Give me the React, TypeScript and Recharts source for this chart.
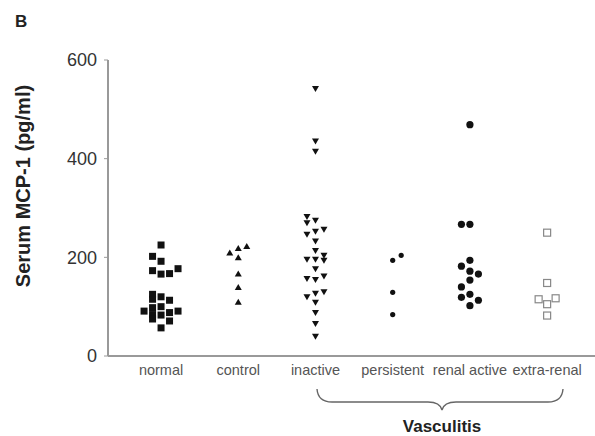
import React from "react";
import { ScatterChart, Scatter, XAxis, YAxis, Customized } from "recharts";

// group names along the x axis
const categories = ["normal", "control", "inactive", "persistent", "renal active", "extra-renal"];
const yTicks = [0, 200, 400, 600];

// [value pg/ml, lane] – lane is the dot column inside the group
const normal: [number, number][] = [
  [225, 0], [202, -1], [192, 0], [177, 2], [173, -1], [167, 1], [166, 0],
  [125, -1], [120, 0], [115, -1], [113, 1], [100, 0], [98, -1], [91, -2],
  [91, 2], [88, 1], [84, -1], [83, 0], [75, -1], [71, 1], [57, 0],
];
const control: [number, number][] = [
  [222, 1], [218, 0], [209, -1], [199, 0], [166, 0], [139, 0], [109, 0],
];
const inactive: [number, number][] = [
  [542, 0], [436, 0], [415, 0], [283, -1], [275, 0], [270, -1], [257, 1],
  [253, 0], [247, -1], [233, 0], [214, 0], [204, 1], [196, -1], [196, 0],
  [194, 1], [177, 0], [162, 1], [157, -1], [155, 0], [130, 1], [127, 0],
  [120, -1], [109, 0], [88, 0], [66, 0], [40, 0],
];
const persistent: [number, number][] = [[204, 1], [194, 0], [129, 0], [84, 0]];
const renalActive: [number, number][] = [
  [469, 0], [267, -1], [267, 0], [194, 0], [182, -1], [172, 0], [166, 1],
  [154, 0], [140, -1], [125, 0], [119, -1], [113, 1], [102, 0],
];
const extraRenal: [number, number][] = [
  [250, 0], [148, 0], [117, 1], [115, -1], [105, 0], [82, 0],
];

const LANE = 0.11;
const FONT = "'Liberation Sans', Arial, Helvetica, sans-serif";

const toPoints = (rows: [number, number][], cat: number) =>
  rows.map(([v, lane]) => ({ x: cat + lane * LANE, y: v }));

const FilledSquare = (p: any) => (
  <rect x={p.cx - 3.5} y={p.cy - 3.5} width={7} height={7} fill="#111" />
);
const OpenSquare = (p: any) => (
  <rect x={p.cx - 3.5} y={p.cy - 3.5} width={7} height={7} fill="#fff" stroke="#888" strokeWidth={1.2} />
);
const TriUp = (p: any) => (
  <path d={`M${p.cx},${p.cy - 3.5} L${p.cx + 3.5},${p.cy + 2.5} L${p.cx - 3.5},${p.cy + 2.5} Z`} fill="#111" />
);
const TriDown = (p: any) => (
  <path d={`M${p.cx - 3.5},${p.cy - 2.5} L${p.cx + 3.5},${p.cy - 2.5} L${p.cx},${p.cy + 3.5} Z`} fill="#111" />
);
const SmallDot = (p: any) => <circle cx={p.cx} cy={p.cy} r={2.6} fill="#111" />;
const BigDot = (p: any) => <circle cx={p.cx} cy={p.cy} r={3.6} fill="#111" />;

const Decorations = () => (
  <g fontFamily={FONT}>
    <text x={15} y={27} fontSize={17} fontWeight="bold" fill="#222">B</text>
    <text
      x={0}
      y={0}
      transform="translate(30,186) rotate(-90)"
      textAnchor="middle"
      fontSize={20}
      fontWeight="bold"
      fill="#222"
    >
      Serum MCP-1 (pg/ml)
    </text>
    <path
      d="M317,389 Q318,402 332,402 L428,402 Q440,402 442,410 Q444,402 456,402 L548,402 Q562,402 563,389"
      fill="none"
      stroke="#666"
      strokeWidth={1.4}
    />
    <text x={442} y={432} textAnchor="middle" fontSize={17} fontWeight="bold" fill="#222">
      Vasculitis
    </text>
  </g>
);

export default function App() {
  return (
    <div style={{ position: "absolute", left: 0, top: 0, width: 595, height: 436, background: "#fff" }}>
      <ScatterChart width={595} height={436} margin={{ top: 60, right: 0, bottom: 50, left: 0 }}>
        <XAxis
          type="number"
          dataKey="x"
          domain={[-0.687, 5.62]}
          ticks={[0, 1, 2, 3, 4, 5]}
          tickFormatter={(i: number) => categories[i] ?? ""}
          allowDataOverflow
          height={30}
          tickLine={false}
          tickSize={0}
          tickMargin={9}
          axisLine={{ stroke: "#999", strokeWidth: 2 }}
          tick={{ fontSize: 14.5, fill: "#555", fontFamily: FONT }}
          interval={0}
        />
        <YAxis
          type="number"
          dataKey="y"
          domain={[0, 600]}
          ticks={yTicks}
          width={108}
          tickSize={4}
          tickMargin={7}
          axisLine={{ stroke: "#999", strokeWidth: 2 }}
          tickLine={{ stroke: "#999" }}
          tick={{ fontSize: 18, fill: "#333", fontFamily: FONT }}
        />
        <Scatter data={toPoints(normal, 0)} shape={FilledSquare} isAnimationActive={false} />
        <Scatter data={toPoints(control, 1)} shape={TriUp} isAnimationActive={false} />
        <Scatter data={toPoints(inactive, 2)} shape={TriDown} isAnimationActive={false} />
        <Scatter data={toPoints(persistent, 3)} shape={SmallDot} isAnimationActive={false} />
        <Scatter data={toPoints(renalActive, 4)} shape={BigDot} isAnimationActive={false} />
        <Scatter data={toPoints(extraRenal, 5)} shape={OpenSquare} isAnimationActive={false} />
        <Customized component={Decorations} />
      </ScatterChart>
    </div>
  );
}
